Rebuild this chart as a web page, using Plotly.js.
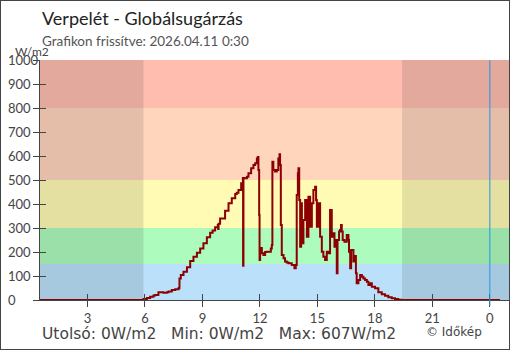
<!DOCTYPE html>
<html><head><meta charset="utf-8">
<script src="https://cdn.plot.ly/plotly-3.0.1.min.js"></script>
<style>
html,body{margin:0;padding:0;background:#fff;}
#wrap{position:relative;width:510px;height:350px;}
#chart{width:510px;height:350px;}
#frame{position:absolute;left:0;top:0;width:510px;height:350px;box-sizing:border-box;border:1px solid #444;pointer-events:none;}
</style></head>
<body><div id="wrap"><div id="chart"></div><div id="frame"></div></div>
<script>
const titleText = 'Verpelét - Globálsugárzás';
const subtitleText = 'Grafikon frissítve: 2026.04.11 0:30';
const unitLabel = 'W/m2';
const lastValue = 0, minValue = 0, maxValue = 607;

const hours = [0.5, 5.90, 5.92, 6.10, 6.27, 6.44, 6.53, 6.70, 6.88, 6.96,
 7.14, 7.23, 7.40, 7.58, 7.75, 7.78, 7.80, 7.87, 8.01, 8.19,
 8.36, 8.53, 8.71, 8.88, 9.05, 9.23, 9.40, 9.53, 9.66, 9.80,
 9.82, 9.84, 9.92, 10.18, 10.36, 10.53, 10.71, 10.79, 10.88, 11.02,
 11.11, 11.12, 11.14, 11.19, 11.32, 11.40, 11.54, 11.66, 11.75, 11.84,
 11.89, 11.92, 11.96, 11.98, 12.01, 12.10, 12.18, 12.27, 12.36, 12.44,
 12.57, 12.62, 12.65, 12.70, 12.79, 12.88, 12.96, 13.02, 13.05, 13.09,
 13.14, 13.23, 13.31, 13.40, 13.49, 13.66, 13.80, 13.87, 13.92, 13.98,
 14.01, 14.05, 14.10, 14.15, 14.19, 14.27, 14.36, 14.45, 14.53, 14.62,
 14.71, 14.79, 14.88, 14.93, 14.97, 15.05, 15.14, 15.23, 15.31, 15.40,
 15.49, 15.57, 15.66, 15.75, 15.83, 15.89, 15.96, 16.01, 16.05, 16.13,
 16.18, 16.23, 16.27, 16.32, 16.41, 16.53, 16.62, 16.65, 16.71, 16.76,
 16.83, 16.88, 16.94, 17.01, 17.05, 17.14, 17.23, 17.32, 17.40, 17.49,
 17.58, 17.66, 17.75, 17.84, 18.01, 18.18, 18.36, 18.53, 18.70, 18.88,
 19.05, 19.22, 19.40, 24.53];
const radiation = [0, 0, 4, 8, 14, 19, 21, 32, 32, 30,
 32, 35, 42, 45, 49, 50, 90, 104, 118, 136,
 163, 180, 197, 215, 236, 261, 280, 290, 303, 312,
 296, 318, 340, 372, 403, 424, 442, 447, 458, 486,
 508, 143, 508, 507, 514, 528, 549, 563, 570, 590,
 596, 542, 354, 167, 217, 195, 188, 200, 201, 201,
 215, 229, 576, 542, 535, 542, 590, 607, 563, 313,
 188, 174, 160, 156, 153, 146, 132, 146, 437, 528,
 549, 417, 222, 403, 236, 333, 417, 264, 430, 305,
 403, 458, 472, 417, 305, 403, 264, 201, 180, 167,
 201, 195, 375, 264, 278, 222, 250, 111, 250, 285,
 292, 313, 285, 250, 243, 271, 250, 201, 132, 208,
 208, 160, 183, 111, 70, 83, 104, 97, 90, 83,
 76, 62, 70, 55, 49, 32, 24, 18, 11, 7,
 4, 1, 0, 0];

const xTickVals = [3, 6, 9, 12, 15, 18, 21, 24];
const xTickText = ['3', '6', '9', '12', '15', '18', '21', '0'];
const yTickVals = [0, 100, 200, 300, 400, 500, 600, 700, 800, 900, 1000];
const bandEdges = [0, 150, 300, 500, 800, 1000];
const bandColors = ['#bbe1fa', '#aefbbe', '#fffbb5', '#ffd5bc', '#ffbdb0'];
const nightPeriods = [[0.5, 5.92], [19.42, 25.0]];
const midnightHour = 24;
const xRange = [0.52, 25.0];

const FONT = 'Lato, "Open Sans", sans-serif';
const WIDE = '"DejaVu Sans", sans-serif';
const shapes = [];
for (let i = 0; i < bandColors.length; i++) {
  shapes.push({type:'rect', xref:'paper', yref:'y', x0:0, x1:1, y0:bandEdges[i], y1:bandEdges[i+1],
    fillcolor:bandColors[i], line:{width:0}, layer:'below'});
}
nightPeriods.forEach(p => shapes.push({type:'rect', xref:'x', yref:'paper', x0:p[0], x1:p[1], y0:0, y1:1,
  fillcolor:'rgba(0,0,0,0.105)', line:{width:0}, layer:'below'}));
shapes.push({type:'line', xref:'x', yref:'paper', x0:midnightHour, x1:midnightHour, y0:-0.025, y1:1,
  line:{color:'#2196e8', width:1}, layer:'above'});

const annotations = [
  {text:titleText, xref:'paper', yref:'paper', x:0, y:1, xanchor:'left', yanchor:'middle', yshift:42, showarrow:false, font:{family:FONT, size:18, color:'#222'}},
  {text:subtitleText, xref:'paper', yref:'paper', x:0, y:1, xanchor:'left', yanchor:'middle', yshift:19, showarrow:false, font:{family:FONT, size:13.5, color:'#555'}},
  {text:unitLabel, xref:'paper', yref:'paper', x:-0.058, y:1, xanchor:'left', yanchor:'middle', yshift:9, showarrow:false, font:{family:FONT, size:12, color:'#444'}},
  {text:'Utolsó: ' + lastValue + 'W/m2&nbsp;&nbsp;&nbsp;Min: ' + minValue + 'W/m2&nbsp;&nbsp;&nbsp;Max: ' + maxValue + 'W/m2',
   xref:'paper', yref:'paper', x:0, y:0, xanchor:'left', yanchor:'middle', yshift:-34, showarrow:false, font:{family:WIDE, size:15.5, color:'#444'}},
  {text:'© Időkép', xref:'paper', yref:'paper', x:0.818, y:0, xanchor:'left', yanchor:'middle', yshift:-32, showarrow:false, font:{family:WIDE, size:12, color:'#444'}}
];
yTickVals.forEach(v => annotations.push({text:String(v), xref:'paper', yref:'y', x:-0.0725, y:v, xanchor:'left', yanchor:'middle',
  showarrow:false, font:{family:FONT, size:13, color:'#444'}}));

const data = [
  {x:hours, y:radiation, type:'scatter', mode:'lines', line:{color:'#8b0000', width:2, shape:'hv'}, hoverinfo:'skip'},
  {x:hours, y:radiation, type:'scatter', mode:'lines', xaxis:'x2', yaxis:'y2', line:{width:0}, opacity:0, hoverinfo:'skip'}
];

const axisCommon = {showgrid:false, zeroline:false, linecolor:'#444', linewidth:1, tickcolor:'#444', ticklen:6, tickwidth:1, fixedrange:true};
const layout = {
  width:510, height:350, margin:{l:40, r:1, t:60, b:50},
  paper_bgcolor:'#fff', plot_bgcolor:'#fff', showlegend:false,
  font:{family:FONT, size:13, color:'#444'},
  xaxis:Object.assign({}, axisCommon, {range:xRange, tickvals:xTickVals, ticktext:xTickText, ticks:'outside', showline:true,
    tickfont:{family:FONT, size:13, color:'#444'}}),
  yaxis:Object.assign({}, axisCommon, {range:[0,1000], tickvals:yTickVals, ticks:'outside', showline:true, showticklabels:false}),
  xaxis2:Object.assign({}, axisCommon, {range:xRange, tickvals:xTickVals, ticks:'inside', overlaying:'x', showline:false, showticklabels:false, side:'bottom'}),
  yaxis2:Object.assign({}, axisCommon, {range:[0,1000], tickvals:yTickVals, ticks:'inside', overlaying:'y', showline:false, showticklabels:false, side:'left'}),
  shapes:shapes, annotations:annotations
};
Plotly.newPlot('chart', data, layout, {staticPlot:true, displayModeBar:false});
</script></body></html>
